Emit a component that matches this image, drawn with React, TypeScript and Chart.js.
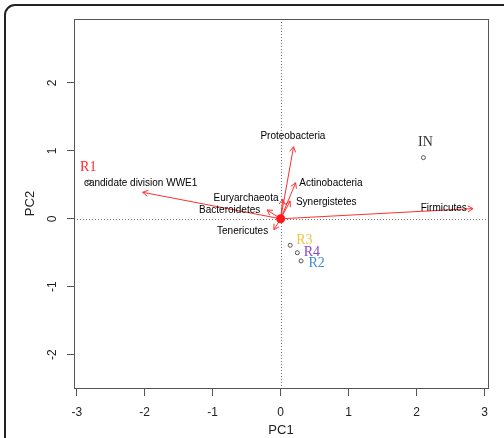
import { useEffect, useRef } from "react";
import { Chart, registerables } from "chart.js";
Chart.register(...registerables);

const sampleNames = ["R1", "R2", "R3", "R4", "IN"];
const sampleX = [-2.82, 0.3, 0.14, 0.245, 2.1];
const sampleY = [0.54, -0.62, -0.39, -0.5, 0.9];
const sampleLabelX = [-2.83, 0.53, 0.35, 0.46, 2.13];
const sampleLabelY = [0.76, -0.66, -0.32, -0.5, 1.12];
const sampleColors = ["#ff2b2b", "#3d8ad6", "#f5c242", "#8a46c4", "#333333"];

const phyla = [
  "Firmicutes",
  "Proteobacteria",
  "Actinobacteria",
  "Synergistetes",
  "Euryarchaeota",
  "Bacteroidetes",
  "Tenericutes",
  "candidate division WWE1",
];
const loadX = [2.83, 0.19, 0.22, 0.14, 0.03, -0.2, -0.1, -2.03];
const loadY = [0.15, 1.06, 0.53, 0.26, 0.29, 0.13, -0.16, 0.39];
const phylaLabelX = [2.4, 0.18, 0.74, 0.67, -0.51, -0.75, -0.56, -2.06];
const phylaLabelY = [0.15, 1.21, 0.53, 0.24, 0.3, 0.12, -0.18, 0.52];

const xTicks = [-3, -2, -1, 0, 1, 2, 3];
const yTicks = [-2, -1, 0, 1, 2];

const SANS = "'Liberation Sans', Arial, sans-serif";
const SERIF = "'Liberation Serif', 'Times New Roman', serif";
const ARROW = "#ff3030";

export default function App() {
  const ref = useRef<HTMLCanvasElement | null>(null);
  useEffect(() => {
    if (!ref.current) return;
    const arrowSets = phyla.map((name, i) => ({
      label: name,
      data: [
        { x: 0, y: 0 },
        { x: loadX[i], y: loadY[i] },
      ],
      showLine: true,
      borderColor: ARROW,
      borderWidth: 1,
      pointRadius: 0,
      order: 2,
      isArrow: true,
    }));
    const decor = {
      id: "decor",
      beforeDraw(chart: any) {
        const ctx = chart.ctx;
        ctx.save();
        ctx.fillStyle = "#fff";
        ctx.fillRect(0, 0, chart.width, chart.height);
        ctx.strokeStyle = "#222";
        ctx.lineWidth = 2;
        ctx.beginPath();
        (ctx as any).roundRect(5, 5, 560, 500, 10);
        ctx.stroke();
        ctx.restore();
      },
      beforeDatasetsDraw(chart: any) {
        const { ctx, chartArea: a, scales } = chart;
        const x0 = scales.x.getPixelForValue(0);
        const y0 = scales.y.getPixelForValue(0);
        ctx.save();
        ctx.strokeStyle = "#777";
        ctx.lineWidth = 1;
        ctx.setLineDash([1, 2]);
        ctx.beginPath();
        ctx.moveTo(Math.round(x0) + 0.5, a.top);
        ctx.lineTo(Math.round(x0) + 0.5, a.bottom);
        ctx.moveTo(a.left, Math.round(y0) + 0.5);
        ctx.lineTo(a.right, Math.round(y0) + 0.5);
        ctx.stroke();
        ctx.restore();
      },
      afterDatasetsDraw(chart: any) {
        const { ctx, chartArea: a, scales } = chart;
        ctx.save();
        chart.data.datasets.forEach((ds: any, i: number) => {
          if (!ds.isArrow) return;
          const meta = chart.getDatasetMeta(i);
          const p0 = meta.data[0];
          const p1 = meta.data[1];
          const ang = Math.atan2(p1.y - p0.y, p1.x - p0.x);
          const L = 6;
          ctx.strokeStyle = ARROW;
          ctx.lineWidth = 1;
          ctx.beginPath();
          ctx.moveTo(p1.x - L * Math.cos(ang - Math.PI / 6), p1.y - L * Math.sin(ang - Math.PI / 6));
          ctx.lineTo(p1.x, p1.y);
          ctx.lineTo(p1.x - L * Math.cos(ang + Math.PI / 6), p1.y - L * Math.sin(ang + Math.PI / 6));
          ctx.stroke();
        });
        ctx.fillStyle = "#000";
        ctx.font = `10px ${SANS}`;
        ctx.textAlign = "center";
        ctx.textBaseline = "middle";
        phyla.forEach((n, i) => {
          ctx.fillText(n, scales.x.getPixelForValue(phylaLabelX[i]), scales.y.getPixelForValue(phylaLabelY[i]));
        });
        ctx.font = `14px ${SERIF}`;
        sampleNames.forEach((n, i) => {
          ctx.fillStyle = sampleColors[i];
          ctx.fillText(n, scales.x.getPixelForValue(sampleLabelX[i]), scales.y.getPixelForValue(sampleLabelY[i]));
        });
        ctx.strokeStyle = "#555";
        ctx.lineWidth = 1;
        ctx.strokeRect(Math.round(a.left) + 0.5, Math.round(a.top) + 0.5, Math.round(a.right - a.left), Math.round(a.bottom - a.top));
        ctx.restore();
      },
      afterDraw(chart: any) {
        const { ctx, scales } = chart;
        ctx.save();
        ctx.fillStyle = "#222";
        ctx.font = `12px ${SANS}`;
        ctx.textAlign = "center";
        ctx.textBaseline = "middle";
        scales.y.ticks.forEach((t: any) => {
          const py = scales.y.getPixelForValue(t.value);
          ctx.save();
          ctx.translate(53, py);
          ctx.rotate(-Math.PI / 2);
          ctx.fillText(String(t.value), 0, 0);
          ctx.restore();
        });
        ctx.restore();
      },
    };
    const chart = new Chart(ref.current, {
      type: "scatter",
      data: {
        datasets: [
          ...arrowSets,
          {
            label: "origin",
            data: [{ x: 0, y: 0 }],
            pointRadius: 4.5,
            backgroundColor: "#ff1a1a",
            borderColor: "#ff1a1a",
            borderWidth: 0,
            order: 1,
          },
          {
            label: "samples",
            data: sampleX.map((x, i) => ({ x, y: sampleY[i] })),
            pointRadius: 2,
            backgroundColor: "rgba(0,0,0,0)",
            borderColor: "#555",
            borderWidth: 1,
            order: 3,
          },
        ] as any,
      },
      options: {
        animation: false,
        responsive: false,
        maintainAspectRatio: false,
        events: [],
        layout: { padding: { left: 0, top: 19, right: 16, bottom: 0 } },
        plugins: { legend: { display: false }, tooltip: { enabled: false } },
        scales: {
          x: {
            type: "linear",
            min: -3.04,
            max: 3.05,
            afterBuildTicks: (s: any) => {
              s.ticks = xTicks.map((v) => ({ value: v }));
            },
            afterFit: (s: any) => {
              s.height = 50;
            },
            grid: { drawOnChartArea: false, drawTicks: true, tickLength: 8, color: "#555" },
            border: { display: false },
            ticks: { color: "#222", font: { family: SANS, size: 12 }, padding: 9, maxRotation: 0, autoSkip: false },
            title: { display: true, text: "PC1", color: "#222", font: { family: SANS, size: 13 }, padding: { top: 0, bottom: 0 } },
          },
          y: {
            type: "linear",
            min: -2.49,
            max: 2.94,
            afterBuildTicks: (s: any) => {
              s.ticks = yTicks.map((v) => ({ value: v }));
            },
            afterFit: (s: any) => {
              s.width = 74;
            },
            grid: { drawOnChartArea: false, drawTicks: true, tickLength: 7, color: "#555" },
            border: { display: false },
            ticks: { display: false },
            title: { display: true, text: "PC2", color: "#222", font: { family: SANS, size: 13 }, padding: { top: 23, bottom: 0 } },
          },
        },
      },
      plugins: [decor],
    });
    return () => chart.destroy();
  }, []);
  return (
    <div style={{ position: "fixed", left: 0, top: 0, width: 504, height: 438 }}>
      <canvas ref={ref} width={504} height={438} style={{ display: "block", width: 504, height: 438 }} />
    </div>
  );
}
